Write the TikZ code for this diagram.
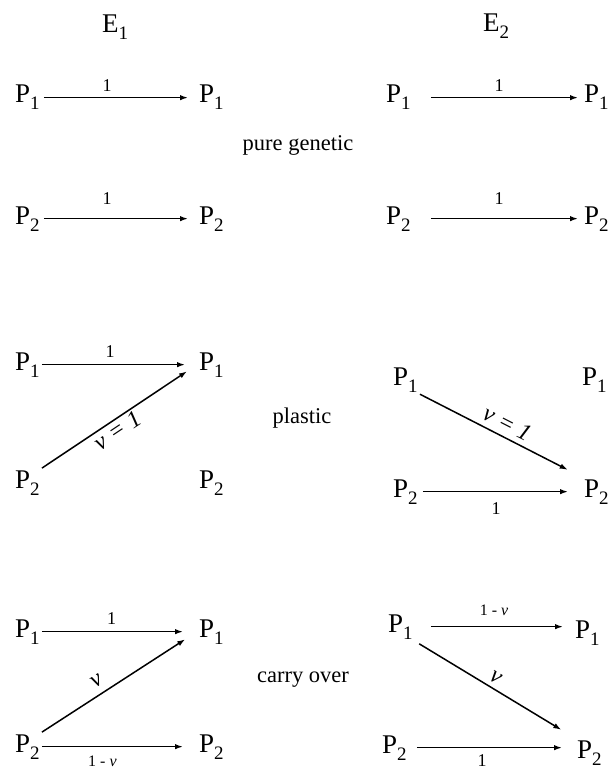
\documentclass[tikz,border=0pt]{standalone}
\usepackage{fontspec}
\setmainfont{Liberation Serif}
\usetikzlibrary{arrows.meta}
\newcommand{\lowidx}[1]{\raisebox{-7pt}{\fontsize{19}{19}\selectfont #1}}
\newcommand{\Pn}[1]{P\lowidx{#1}}
\tikzset{
  >={Latex[length=8pt,width=5.5pt]},
  every node/.style={font=\fontsize{16}{18}\selectfont},
  pop/.style={anchor=base west,inner sep=2pt,font=\fontsize{27}{30}\selectfont},
  envhead/.style={anchor=base west,inner sep=2pt,font=\fontsize{27}{30}\selectfont},
  kind/.style={anchor=base,font=\fontsize{22.5}{26}\selectfont},
  wt/.style={inner sep=1pt,font=\fontsize{18}{20}\selectfont},
  wtsmall/.style={inner sep=1pt,font=\fontsize{16}{18}\selectfont},
  rate/.style={inner sep=1pt,font=\fontsize{24}{26}\selectfont\itshape},
  flow/.style={->,line width=1.5pt},
}

\begin{document}
\begin{tikzpicture}[x=1pt,y=1pt]
  \useasboundingbox (0,0) rectangle (615,-770);

  % environments
  \node[envhead] (e1) at (100,-33) {E\lowidx{1}};
  \node[envhead] (e2) at (481,-32) {E\lowidx{2}};

  % pure genetic
  \node[pop] (ga1) at (13,-103)  {\Pn{1}};
  \node[pop] (gb1) at (197,-103) {\Pn{1}};
  \node[pop] (gc1) at (384,-103) {\Pn{1}};
  \node[pop] (gd1) at (582,-103) {\Pn{1}};
  \node[pop] (ga2) at (13,-224)  {\Pn{2}};
  \node[pop] (gb2) at (197,-224) {\Pn{2}};
  \node[pop] (gc2) at (384,-224) {\Pn{2}};
  \node[pop] (gd2) at (582,-224) {\Pn{2}};
  \node[kind] (kg) at (298,-151) {pure genetic};

  \draw[flow,shorten <=2pt,shorten >=9pt] (ga1.east) -- (ga1.east -| gb1.west)
    node[wt,pos=.42,above=4pt] {1};
  \draw[flow,shorten <=2pt,shorten >=9pt] (ga2.east) -- (ga2.east -| gb2.west)
    node[wt,pos=.42,above=12pt] {1};
  \draw[flow,shorten <=18pt,shorten >=4pt] (gc1.east) -- (gc1.east -| gd1.west)
    node[wt,pos=.51,above=4pt] {1};
  \draw[flow,shorten <=18pt,shorten >=4pt] (gc2.east) -- (gc2.east -| gd2.west)
    node[wt,pos=.51,above=12pt] {1};

  % plastic
  \node[pop] (pa1) at (13,-370)  {\Pn{1}};
  \node[pop] (pb1) at (197,-370) {\Pn{1}};
  \node[pop] (pc1) at (391,-385) {\Pn{1}};
  \node[pop] (pd1) at (580,-385) {\Pn{1}};
  \node[pop] (pa2) at (13,-488)  {\Pn{2}};
  \node[pop] (pb2) at (197,-488) {\Pn{2}};
  \node[pop] (pc2) at (391,-497) {\Pn{2}};
  \node[pop] (pd2) at (582,-497) {\Pn{2}};
  \node[kind] (kp) at (302,-423) {plastic};

  \draw[flow,shorten >=12pt] (pa1.east) -- (pa1.east -| pb1.west)
    node[wt,pos=.44,above=5pt] {1};
  \draw[flow,shorten >=12pt] (pa2.north east) -- (pb1.west)
    node[rate,pos=.45,sloped,below=1pt] {ν = 1};
  \draw[flow,shorten <=3pt,shorten >=14pt] (pc2.east) -- (pc2.east -| pd2.west)
    node[wt,pos=.47,below=9pt] {1};
  \draw[flow,shorten >=16pt] (pc1.south east) -- (pd2.north west)
    node[rate,pos=.5,sloped,above=4pt] {ν = 1};

  % carry over
  \node[pop] (ca1) at (13,-637)  {\Pn{1}};
  \node[pop] (cb1) at (197,-637) {\Pn{1}};
  \node[pop] (cc1) at (386,-632) {\Pn{1}};
  \node[pop] (cd1) at (573,-638) {\Pn{1}};
  \node[pop] (ca2) at (13,-752)  {\Pn{2}};
  \node[pop] (cb2) at (197,-752) {\Pn{2}};
  \node[pop] (cc2) at (380,-753) {\Pn{2}};
  \node[pop] (cd2) at (575,-758) {\Pn{2}};
  \node[kind] (kc) at (303,-682) {carry over};

  \draw[flow,shorten >=14pt] (ca1.east) -- (ca1.east -| cb1.west)
    node[wt,pos=.45,above=5pt] {1};
  \draw[flow,shorten >=14pt] (ca2.east) -- (ca2.east -| cb2.west)
    node[wtsmall,pos=.39,below=8pt] {1 - \textit{ν}};
  \draw[flow,shorten >=14pt] (ca2.north east) -- (cb1.west)
    node[rate,pos=.4,sloped,above=6pt] {ν};
  \draw[flow,shorten <=16pt,shorten >=10pt] (cc1.east) -- (cc1.east -| cd1.west)
    node[wtsmall,pos=.5,above=9pt] {1 - \textit{ν}};
  \draw[flow,shorten <=8pt,shorten >=13pt] (cc2.east) -- (cc2.east -| cd2.west)
    node[wt,pos=.44,below=5pt] {1};
  \draw[flow,shorten <=5pt,shorten >=16pt] (cc1.south east) -- (cd2.north west)
    node[rate,pos=.47,sloped,above=3pt] {ν};
\end{tikzpicture}
\end{document}
